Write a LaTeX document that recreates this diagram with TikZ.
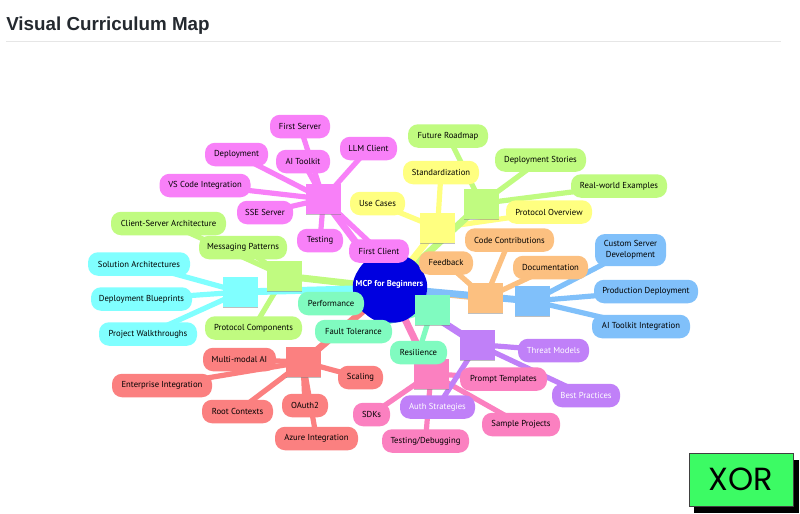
\documentclass[tikz,border=0pt]{standalone}
\usepackage{fontspec}
\setmainfont{PT Sans}
\newfontfamily\titlefont{Liberation Sans}
\newfontfamily\logofont{Poppins}
\usetikzlibrary{backgrounds,shadows,shapes.symbols}
\definecolor{cpink}{HTML}{F880F8}
\definecolor{cyellow}{HTML}{FFFF80}
\definecolor{clime}{HTML}{C0FB80}
\definecolor{corange}{HTML}{FCC080}
\definecolor{cblue}{HTML}{80C0FA}
\definecolor{ccyan}{HTML}{80FFFF}
\definecolor{cmint}{HTML}{80FBC0}
\definecolor{cred}{HTML}{FB8080}
\definecolor{chot}{HTML}{FB80C0}
\definecolor{cpurple}{HTML}{C080F8}
\definecolor{croot}{HTML}{0000E0}
\definecolor{cink}{HTML}{24292F}
\definecolor{crule}{HTML}{E6E6E6}
\definecolor{clogo}{HTML}{3CFB64}
\tikzset{
  x=0.75pt,y=-0.75pt,
  wd/.style={minimum width=#1*0.75pt},
  ht/.style={minimum height=#1*0.75pt},
  leaf/.style={rectangle,rounded corners=7.5pt,inner sep=0pt,ht=23.5,align=center,
    text=black,font=\fontsize{6.5pt}{7.9pt}\selectfont},
  hub/.style={rectangle,inner sep=0pt,minimum width=26.25pt,minimum height=22.5pt,
    drop shadow={shadow xshift=0pt,shadow yshift=-0.9pt,fill=black!50,opacity=.5}},
  link/.style={line width=3.9pt,line cap=round},
  trunk/.style={line width=5.2pt,line cap=round},
}
\begin{document}
\begin{tikzpicture}
\useasboundingbox (0,0) rectangle (800,514);
% header
\node[anchor=base west,inner sep=0pt,text=cink,font=\titlefont\bfseries\fontsize{14.1pt}{16pt}\selectfont] (title) at (6,31) {Visual Curriculum Map};
\coordinate (ruleL) at (6,41.5);
\coordinate (ruleR) at (781,41.5);
\draw[crule,line width=1.4pt] (ruleL) -- (ruleR);
% root
\node[cloud,cloud puffs=9,cloud puff arc=50,aspect=1,fill=croot,inner sep=0pt,minimum width=56pt,minimum height=53pt] (root) at (390,288) {};
\node[text=white,inner sep=0pt,font=\bfseries\fontsize{6.4pt}{9pt}\selectfont] (rootlabel) at (389.5,284) {MCP for Beginners};
% hubs
\node[hub,fill=cpink] (hpink) at (323.5,199) {};
\node[hub,fill=cyellow] (hyellow) at (437.5,228) {};
\node[hub,fill=clime] (hlimea) at (481.5,203.5) {};
\node[hub,fill=corange] (horange) at (485.5,298) {};
\node[hub,fill=cblue] (hblue) at (532.5,301) {};
\node[hub,fill=ccyan] (hcyan) at (240.5,292) {};
\node[hub,fill=clime] (hlimeb) at (284.5,276) {};
\node[hub,fill=cmint] (hmint) at (432,309.5) {};
\node[hub,fill=cred] (hred) at (303,362) {};
\node[hub,fill=chot] (hhot) at (431,373.5) {};
\node[hub,fill=cpurple] (hpurple) at (477.5,344.5) {};
% pink
\node[leaf,fill=cpink,wd=60] (firstserver) at (300,126.5) {First Server};
\node[leaf,fill=cpink,wd=54] (aitoolkit) at (303,161.5) {AI Toolkit};
\node[leaf,fill=cpink,wd=63] (deployment) at (236.5,154.5) {Deployment};
\node[leaf,fill=cpink,wd=57] (llm) at (368.5,148.5) {LLM Client};
\node[leaf,fill=cpink,wd=91] (vscode) at (205,185.5) {VS Code Integration};
\node[leaf,fill=cpink,wd=56] (sse) at (265,212.5) {SSE Server};
\node[leaf,fill=cpink,wd=46] (testing) at (320,240.5) {Testing};
\node[leaf,fill=cpink,wd=60] (firstclient) at (379,251) {First Client};
% yellow
\node[leaf,fill=cyellow,wd=55] (usecases) at (377.5,203.5) {Use Cases};
\node[leaf,fill=cyellow,wd=76] (standard) at (441,172.5) {Standardization};
\node[leaf,fill=cyellow,wd=86] (overview) at (549,212) {Protocol Overview};
% lime a
\node[leaf,fill=clime,wd=80] (roadmap) at (448,136) {Future Roadmap};
\node[leaf,fill=clime,wd=91] (stories) at (540.5,160) {Deployment Stories};
\node[leaf,fill=clime,wd=96] (realworld) at (619,186) {Real-world Examples};
% orange
\node[leaf,fill=corange,wd=89] (contrib) at (509.5,240) {Code Contributions};
\node[leaf,fill=corange,wd=54] (feedback) at (446,263) {Feedback};
\node[leaf,fill=corange,wd=75] (docs) at (550.5,267.5) {Documentation};
% blue
\node[leaf,fill=cblue,wd=71,ht=32] (custom) at (630.5,250) {Custom Server\\Development};
\node[leaf,fill=cblue,wd=104] (prod) at (646,291.5) {Production Deployment};
\node[leaf,fill=cblue,wd=98] (aiint) at (641,326.5) {AI Toolkit Integration};
% cyan
\node[leaf,fill=ccyan,wd=102] (solution) at (139,264) {Solution Architectures};
\node[leaf,fill=ccyan,wd=101] (blueprints) at (141.5,299) {Deployment Blueprints};
\node[leaf,fill=ccyan,wd=98] (walk) at (148,334) {Project Walkthroughs};
% lime b
\node[leaf,fill=clime,wd=115] (clientserver) at (168.5,223.5) {Client-Server Architecture};
\node[leaf,fill=clime,wd=88] (messaging) at (243,247.5) {Messaging Patterns};
\node[leaf,fill=clime,wd=97] (components) at (253.5,328) {Protocol Components};
% mint
\node[leaf,fill=cmint,wd=66] (performance) at (331,303.5) {Performance};
\node[leaf,fill=cmint,wd=77] (fault) at (353.5,331.5) {Fault Tolerance};
\node[leaf,fill=cmint,wd=57] (resilience) at (418.5,352.5) {Resilience};
% red
\node[leaf,fill=cred,wd=73] (multimodal) at (239.5,359.5) {Multi-modal AI};
\node[leaf,fill=cred,wd=100] (enterprise) at (162,385.5) {Enterprise Integration};
\node[leaf,fill=cred,wd=71] (rootctx) at (237.5,411.5) {Root Contexts};
\node[leaf,fill=cred,wd=46] (oauth) at (305,405.5) {OAuth2};
\node[leaf,fill=cred,wd=83] (azure) at (316.5,438.5) {Azure Integration};
\node[leaf,fill=cred,wd=45] (scaling) at (360.5,377.5) {Scaling};
% hot pink
\node[leaf,fill=chot,wd=37] (sdks) at (371.5,414.5) {SDKs};
\node[leaf,fill=chot,wd=87] (testdebug) at (425.5,441) {Testing/Debugging};
\node[leaf,fill=chot,wd=78] (sample) at (521,424.5) {Sample Projects};
\node[leaf,fill=chot,wd=87] (prompt) at (503.5,379) {Prompt Templates};
% purple
\node[leaf,fill=cpurple,text=white,wd=71] (threat) at (553.5,350.5) {Threat Models};
\node[leaf,fill=cpurple,text=white,wd=68] (best) at (586,395.5) {Best Practices};
\node[leaf,fill=cpurple,text=white,wd=75] (auth) at (437.5,407) {Auth Strategies};
% connectors
\begin{scope}[on background layer]
  \fill[white] (0,0) rectangle (800,514);
  \foreach \t in {firstserver,aitoolkit,deployment,llm,vscode,sse,testing,firstclient}
    \draw[link,cpink] (hpink.center) -- (\t.center);
  \foreach \t in {usecases,standard,overview}
    \draw[link,cyellow] (hyellow.center) -- (\t.center);
  \foreach \t in {roadmap,stories,realworld}
    \draw[link,clime] (hlimea.center) -- (\t.center);
  \foreach \t in {contrib,feedback,docs}
    \draw[link,corange] (horange.center) -- (\t.center);
  \foreach \t in {custom,prod,aiint}
    \draw[link,cblue] (hblue.center) -- (\t.center);
  \foreach \t in {solution,blueprints,walk}
    \draw[link,ccyan] (hcyan.center) -- (\t.center);
  \foreach \t in {clientserver,messaging,components}
    \draw[link,clime] (hlimeb.center) -- (\t.center);
  \foreach \t in {performance,fault,resilience}
    \draw[link,cmint] (hmint.center) -- (\t.center);
  \foreach \t in {multimodal,enterprise,rootctx,oauth,azure,scaling}
    \draw[link,cred] (hred.center) -- (\t.center);
  \foreach \t in {sdks,testdebug,sample,prompt}
    \draw[link,chot] (hhot.center) -- (\t.center);
  \foreach \t in {threat,best,auth}
    \draw[link,cpurple] (hpurple.center) -- (\t.center);
  \draw[trunk,cpink] (root.center) -- (hpink.center);
  \draw[trunk,clime] (root.center) -- (hlimea.center);
  \draw[trunk,cyellow] (root.center) -- (hyellow.center);
  \draw[trunk,corange] (root.center) -- (horange.center);
  \draw[trunk,cblue] (root.center) -- (hblue.center);
  \draw[trunk,cpurple] (root.center) -- (hpurple.center);
  \draw[trunk,cmint] (root.center) -- (hmint.center);
  \draw[trunk,chot] (root.center) -- (hhot.center);
  \draw[trunk,cred] (root.center) -- (hred.center);
  \draw[trunk,clime] (root.center) -- (hlimeb.center);
  \draw[trunk,ccyan] (root.center) -- (hcyan.center);
\end{scope}
% logo
\fill[black] (694,460) rectangle (799,513);
\node[rectangle,draw=black!75,line width=0.6pt,fill=clogo,inner sep=0pt,minimum width=78pt,minimum height=39.75pt,font=\logofont\fontsize{24pt}{24pt}\selectfont,text=black] (logo) at (741,479.5) {XOR};
\end{tikzpicture}
\end{document}
